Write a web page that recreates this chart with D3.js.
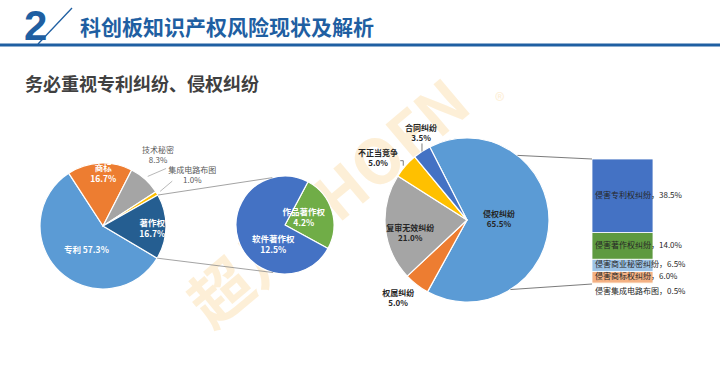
<!DOCTYPE html>
<html><head><meta charset="utf-8">
<script src="https://cdn.jsdelivr.net/npm/d3@7"></script>
<style>
html,body{margin:0;padding:0;background:#fff;}
svg{display:block;font-family:"Noto Sans CJK SC","Noto Sans",sans-serif;}
</style></head>
<body>
<svg id="c" width="720" height="392"></svg>
<script>
// ---- data ----
const headerNum = "2";
const titleText = "科创板知识产权风险现状及解析";
const subtitleText = "务必重视专利纠纷、侵权纠纷";

const leftCats = ["专利","商标","技术秘密","集成电路布图","著作权"];
const leftVals = [57.3,16.7,8.3,1.0,16.7];
const leftColors = ["#5b9bd5","#ed7d31","#a5a5a5","#ffc000","#255e91"];

const copyCats = ["作品著作权","软件著作权"];
const copyVals = [4.2,12.5];
const copyColors = ["#70ad47","#4472c4"];

const rightCats = ["侵权纠纷","权属纠纷","复审无效纠纷","不正当竞争","合同纠纷"];
const rightVals = [65.5,5.0,21.0,5.0,3.5];
const rightColors = ["#5b9bd5","#ed7d31","#a5a5a5","#ffc000","#4472c4"];

const barCats = ["侵害专利权纠纷","侵害著作权纠纷","侵害商业秘密纠纷","侵害商标权纠纷","侵害集成电路布图"];
const barVals = [38.5,14.0,6.5,6.0,0.5];
const barColors = ["#4472c4","#5e9a40","#9dc3e6","#f4b183","#ffd966"];

// ---- drawing ----
const svg = d3.select("#c");
const deg = Math.PI/180;
const fmt = v => d3.format(".1f")(v) + "%";
const polar = (c, r, a) => [c[0] + r*Math.sin(a), c[1] - r*Math.cos(a)];

// watermark (behind everything)
svg.append("text")
  .attr("transform","translate(212,330) rotate(-40)")
  .attr("font-size",62).attr("font-weight","bold")
  .attr("fill","#fde6bd").attr("opacity",0.6)
  .attr("font-family","'Noto Sans CJK SC',sans-serif")
  .text("超凡CHOFN");
svg.append("text")
  .attr("x",495).attr("y",108).attr("font-size",20)
  .attr("fill","#fde6bd").attr("opacity",0.6).text("®");

// header
const blue = "#1f5fa2";
svg.append("text").attr("x",24).attr("y",40)
  .attr("font-family","'Liberation Sans Narrow','Liberation Sans',sans-serif")
  .attr("font-size",42).attr("font-weight","bold").attr("fill",blue).text(headerNum);
svg.append("line").attr("x1",38).attr("y1",44).attr("x2",72).attr("y2",8)
  .attr("stroke",blue).attr("stroke-width",1.3);
svg.append("text").attr("x",80).attr("y",35)
  .attr("font-size",21).attr("font-weight","bold").attr("fill",blue).text(titleText);
svg.append("rect").attr("x",0).attr("y",43.5).attr("width",720).attr("height",3).attr("fill",blue);
svg.append("text").attr("x",25).attr("y",91)
  .attr("font-size",18).attr("font-weight","bold").attr("fill","#404040").text(subtitleText);

// helper to draw pie
function drawPie(cats, vals, colors, c, r, start) {
  const pie = d3.pie().sort(null).startAngle(start).endAngle(start + 2*Math.PI);
  const arcs = pie(vals);
  arcs.forEach((a,i)=>{a.cat=cats[i]; a.color=colors[i]; a.val=vals[i];});
  const arc = d3.arc().innerRadius(0).outerRadius(r);
  svg.append("g").attr("transform",`translate(${c[0]},${c[1]})`)
    .selectAll("path").data(arcs).join("path")
    .attr("d",arc).attr("fill",d=>d.color)
    .attr("stroke","#fff").attr("stroke-width",1.2).attr("stroke-linejoin","round");
  return arcs;
}
function label(x, y, lines, opts) {
  const n = lines.length;
  lines.forEach((s,i)=>{
    svg.append("text").attr("x",x)
      .attr("y", y + (i-(n-1)/2)*opts.lh + opts.size*0.36)
      .attr("text-anchor","middle").attr("font-size",opts.size)
      .attr("font-weight",opts.weight||"bold").attr("fill",opts.fill).text(s);
  });
}

// ---- left pie ----
const LC = [103,226], LR = 63;
const leftArcs = drawPie(leftCats, leftVals, leftColors, LC, LR, 120.7*deg);
const leftLay = {
  "专利":        {f:0.45, dx:3,  dy:3, inside:true, one:true},
  "商标":        {f:0.83, dx:3,  dy:0, inside:true},
  "技术秘密":    {f:1.40, dx:-4, dy:-5, inside:false},
  "集成电路布图":{f:1.62, dx:2,  dy:2, inside:false},
  "著作权":      {f:0.78, dx:0,  dy:2, inside:true}
};
// left leader lines
leftArcs.forEach(a=>{
  const L = leftLay[a.cat]; if (L.inside) return;
  const mid = (a.startAngle+a.endAngle)/2;
  const p0 = polar(LC, LR*1.06, mid);
  const lp = polar(LC, LR*L.f, mid);
  const p1 = a.cat==="技术秘密" ? [lp[0]+L.dx+8, lp[1]+L.dy+13] : [lp[0]+L.dx-20, lp[1]+L.dy+6];
  svg.append("line").attr("x1",p0[0]).attr("y1",p0[1]).attr("x2",p1[0]).attr("y2",p1[1])
    .attr("stroke","#a6a6a6").attr("stroke-width",0.8);
});
leftArcs.forEach(a=>{
  const L = leftLay[a.cat];
  const mid = (a.startAngle+a.endAngle)/2;
  const p = polar(LC, LR*L.f, mid);
  const lines = L.one ? [a.cat+" "+fmt(a.val)] : [a.cat, fmt(a.val)];
  label(p[0]+L.dx, p[1]+L.dy, lines, L.inside
    ? {size:8.5, lh:11, fill:"#fff"}
    : {size:8, lh:10, fill:"#595959", weight:"normal"});
});

// ---- copyright sub pie ----
const CC = [285,225], CR = 49;
const copyArcs = drawPie(copyCats, copyVals, copyColors, CC, CR, 28*deg);
const copyLay = {"作品著作权":{f:0.38, dx:1, dy:-2}, "软件著作权":{f:0.55, dx:14, dy:12}};
copyArcs.forEach(a=>{
  const L = copyLay[a.cat];
  const mid = (a.startAngle+a.endAngle)/2;
  const p = polar(CC, CR*L.f, mid);
  label(p[0]+L.dx, p[1]+L.dy, [a.cat, fmt(a.val)], {size:8.5, lh:11, fill:"#fff"});
});
// connectors left pie -> sub pie
const zzq = leftArcs[leftCats.indexOf("著作权")];
[[zzq.startAngle, -15*deg],[zzq.endAngle, 194*deg]].forEach(([a0,a1])=>{
  const p0 = polar(LC, LR, a0), p1 = polar(CC, CR, a1);
  svg.append("line").attr("x1",p0[0]).attr("y1",p0[1]).attr("x2",p1[0]).attr("y2",p1[1])
    .attr("stroke","#8c8c8c").attr("stroke-width",0.8);
});

// ---- right pie ----
const RC = [467,220], RR = 82;
const rightArcs = drawPie(rightCats, rightVals, rightColors, RC, RR, -27*deg);
const rightLay = {
  "侵权纠纷":    {f:0.39, dx:0,  dy:-1, inside:true},
  "权属纠纷":    {f:1.27, dx:-5, dy:-4},
  "复审无效纠纷":{f:0.72, dx:2,  dy:8, inside:true},
  "不正当竞争":  {f:1.30, dx:-9, dy:9},
  "合同纠纷":    {f:1.22, dx:9,  dy:-3}
};
rightArcs.forEach(a=>{
  const L = rightLay[a.cat];
  const mid = (a.startAngle+a.endAngle)/2;
  const p = polar(RC, RR*L.f, mid);
  label(p[0]+L.dx, p[1]+L.dy, [a.cat, fmt(a.val)], {size:8, lh:10, fill:"#262626"});
});
// right leader lines
(function(){
  const a = rightArcs[rightCats.indexOf("合同纠纷")];
  const mid = (a.startAngle+a.endAngle)/2;
  const p0 = polar(RC, RR, mid);
  svg.append("line").attr("x1",p0[0]).attr("y1",p0[1]).attr("x2",p0[0]).attr("y2",p0[1]-8)
    .attr("stroke","#595959").attr("stroke-width",0.8);
  const b = rightArcs[rightCats.indexOf("不正当竞争")];
  const midb = (b.startAngle+b.endAngle)/2;
  const q = polar(RC, RR*1.02, midb);
  svg.append("polyline").attr("points",`${q[0]-4},${q[1]-4} ${q[0]-1},${q[1]-4} ${q[0]-1},${q[1]+1}`)
    .attr("fill","none").attr("stroke","#595959").attr("stroke-width",0.8);
})();

// ---- bar of pie ----
const total = d3.sum(barVals);
const y = d3.scaleLinear().domain([0,total]).range([284,159]);
const barX = 592, barW = 61;
const stackVals = barVals.slice().reverse();
const stackCats = barCats.slice().reverse();
const stackCols = barColors.slice().reverse();
let cum = 0;
const segs = stackVals.map((v,i)=>{const s={cat:stackCats[i], v, color:stackCols[i], y0:cum, y1:cum+v}; cum+=v; return s;});
svg.append("g").selectAll("rect").data(segs).join("rect")
  .attr("x",barX).attr("width",barW)
  .attr("y",d=>y(d.y1)).attr("height",d=>y(d.y0)-y(d.y1))
  .attr("fill",d=>d.color).attr("stroke","#fff").attr("stroke-width",0.8);
segs.forEach(d=>{
  const yy = d.v < 1 ? y(d.y0) + 7 : (y(d.y0)+y(d.y1))/2 - 1;
  svg.append("text").attr("x",barX+3).attr("y",yy+3)
    .attr("font-size",8).attr("fill","#262626").text(d.cat+"，"+fmt(d.v));
});
// connectors right pie -> bar
[[38*deg, y(total)],[148*deg, y(0)]].forEach(([a,yb])=>{
  const p0 = polar(RC, RR, a);
  svg.append("line").attr("x1",p0[0]).attr("y1",p0[1]).attr("x2",barX).attr("y2",yb)
    .attr("stroke","#595959").attr("stroke-width",0.8);
});
</script>
</body></html>
